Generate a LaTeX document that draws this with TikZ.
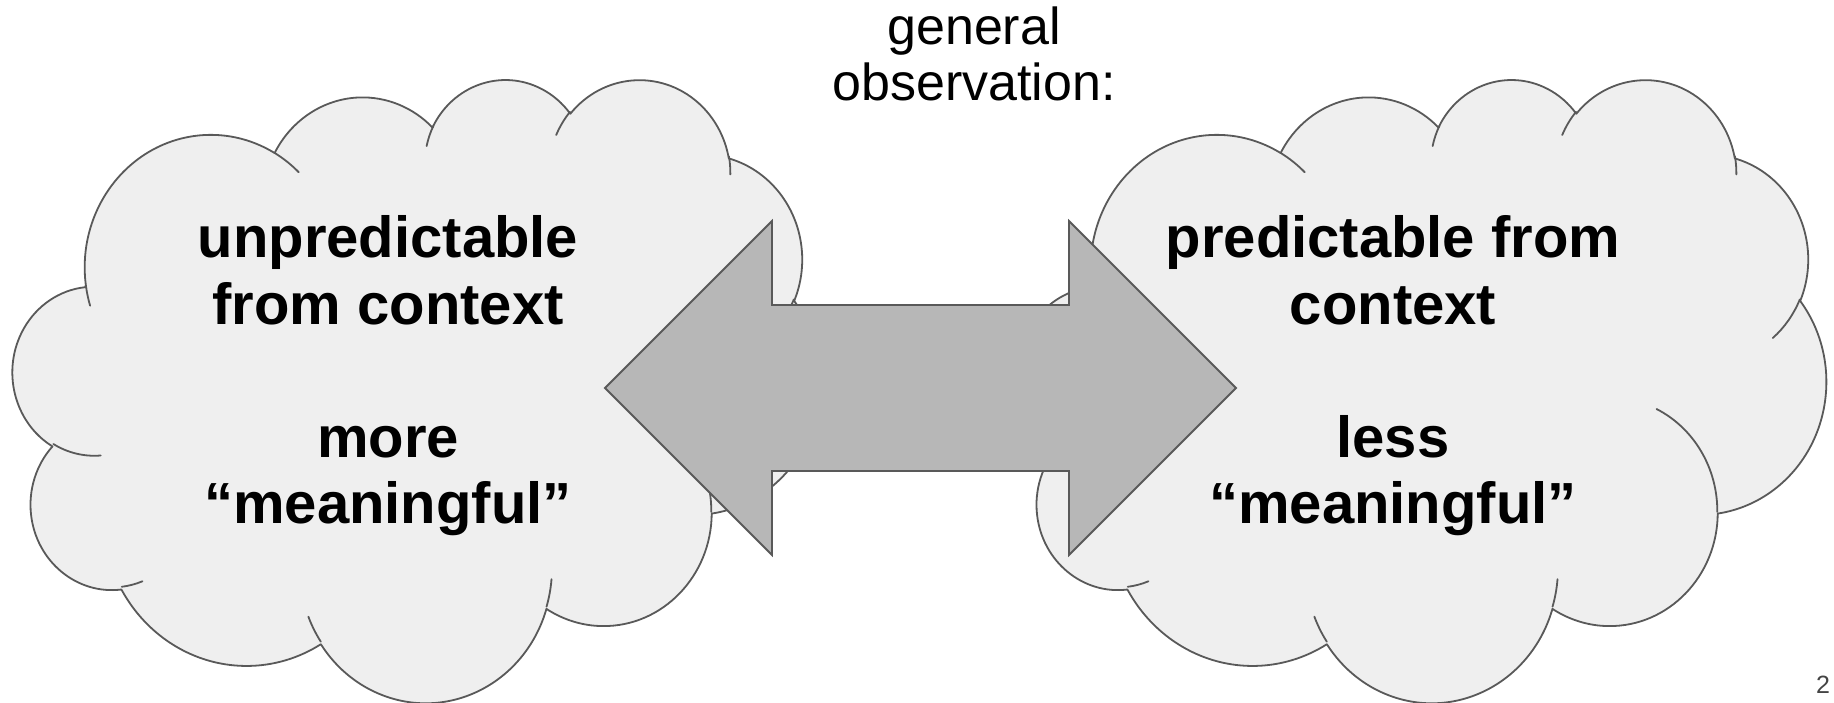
\documentclass[tikz,border=0pt]{standalone}
\usepackage{fontspec}
\setmainfont{Liberation Sans}
\definecolor{cloudfill}{HTML}{EFEFEF}
\definecolor{edgegray}{HTML}{595959}
\definecolor{arrowfill}{HTML}{B7B7B7}
\definecolor{numgray}{HTML}{444444}
\tikzset{
  varc/.code n args={4}{%
    \pgfmathsetmacro\vaS{atan2((#1)*sin(#3),(#2)*cos(#3))}%
    \pgfmathsetmacro\vaE{atan2((#1)*sin((#3)+(#4)),(#2)*cos((#3)+(#4)))}%
    \pgfmathsetmacro\vaD{\vaE-\vaS}%
    \pgfmathsetmacro\vaD{\vaD+360*round(((#4)-\vaD)/360)}%
    \edef\vanext{\noexpand\pgfkeysalso{start angle=\vaS,delta angle=\vaD,x radius=#1,y radius=#2}}%
    \vanext},
  cloudbody/.style={fill=cloudfill, draw=edgegray, line width=1.8pt, line join=round},
  cloudstub/.style={draw=edgegray, line width=1.8pt, line cap=round},
  arrowbody/.style={fill=arrowfill, draw=edgegray, line width=1.8pt},
  bigtext/.style={align=center, inner sep=0pt, font=\bfseries\fontsize{58}{66.5}\selectfont},
  toptext/.style={align=center, inner sep=0pt, font=\fontsize{52}{56}\selectfont},
}
\newcommand{\drawcloud}[2]{%
  \begin{scope}[xshift=#1pt, yshift=-#2pt, x=18.681pt, y=-14.421pt]
    \path[cloudbody] (3.900,14.370)
      arc[varc={6.753}{9.190}{-190.48748}{123.78053}]
      arc[varc={5.333}{7.267}{-144.10238}{89.94523}]
      arc[varc={4.365}{5.945}{-145.80792}{99.72302}]
      arc[varc={4.857}{6.595}{-130.98607}{117.24173}]
      arc[varc={5.333}{7.273}{-78.70888}{109.02692}]
      arc[varc={6.775}{9.220}{-46.26725}{130.269}]
      arc[varc={5.785}{7.867}{0.62502}{114.03333}]
      arc[varc={6.752}{9.215}{22.4516}{115.17255}]
      arc[varc={7.720}{10.543}{66.24263}{75.71102}]
      arc[varc={4.360}{5.918}{-274.94208}{146.73557}]
      arc[varc={4.345}{5.945}{-246.8285}{152.51885}]
      -- cycle;
    \path[cloudstub]
      (4.693,26.177) arc[varc={4.345}{5.945}{86.742}{26.4295}]
      (6.928,34.899) arc[varc={4.360}{5.918}{73.61047}{11.44747}]
      (16.478,39.090) arc[varc={6.752}{9.215}{137.62415}{14.0811}]
      (28.827,34.751) arc[varc={6.752}{9.215}{6.45327}{15.99835}]
      (34.129,22.954) arc[varc={5.785}{7.867}{-70.29235}{70.91737}]
      (41.798,15.354) arc[varc={5.333}{7.273}{30.31803}{27.7515}]
      (38.324,5.426) arc[varc={4.857}{6.595}{-13.74433}{14.8589}]
      (29.078,3.952) arc[varc={4.857}{6.595}{-149.18145}{18.19537}]
      (22.141,4.720) arc[varc={4.365}{5.945}{-163.49427}{17.68635}]
      (14.000,5.192) arc[varc={6.753}{9.190}{-66.70695}{12.31935}]
      (4.127,15.789) arc[varc={6.753}{9.190}{157.65435}{11.85817}];
  \end{scope}}
\begin{document}
\begin{tikzpicture}[x=1pt, y=-1pt]
  \useasboundingbox (0,0) rectangle (1834,702);
  % left cloud
  \drawcloud{13}{78}
  \node[bigtext] (lefttext) at (388,376) {unpredictable\\from context\\[66.5pt]more\\“meaningful”};
  % right cloud
  \drawcloud{1019}{78}
  \node[bigtext] (righttext) at (1393,376) {predictable from\\context\\[66.5pt]less\\“meaningful”};
  % double block arrow
  \path[arrowbody] (605,388) coordinate (tipL)
    -- (772,221) -- (772,305) -- (1069,305) -- (1069,221)
    -- (1236,388) coordinate (tipR)
    -- (1069,555) -- (1069,471) -- (772,471) -- (772,555) -- cycle;
  % heading
  \node[toptext] (heading) at (974,54) {general\\observation:};
  % page number
  \node[anchor=base west, inner sep=0pt, text=numgray, font=\fontsize{25}{30}\selectfont] (pagenum) at (1816,693) {2};
\end{tikzpicture}
\end{document}
